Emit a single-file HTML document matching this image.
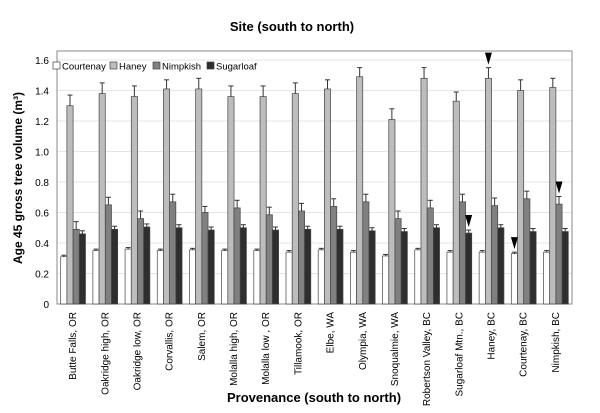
<!DOCTYPE html>
<html><head><meta charset="utf-8"><style>
body{margin:0;background:#fff;font-family:"Liberation Sans",sans-serif;}
svg text{font-family:"Liberation Sans",sans-serif;}
</style></head><body>
<svg id="chart" width="600" height="408" viewBox="0 0 600 408" xmlns="http://www.w3.org/2000/svg">
<text x="292" y="31" text-anchor="middle" font-size="13" font-weight="bold">Site (south to north)</text>
<text x="314" y="402" text-anchor="middle" font-size="13" font-weight="bold">Provenance (south to north)</text>
<text transform="translate(22,178) rotate(-90)" text-anchor="middle" font-size="12" font-weight="bold">Age 45 gross tree volume (m³)</text>
<g id="plot"></g>
</svg>
<script>
const categories=["Butte Falls, OR","Oakridge high, OR","Oakridge low, OR","Corvallis, OR","Salem, OR","Molalla high, OR","Molalla low , OR","Tillamook, OR","Elbe, WA","Olympia, WA","Snoqualmie, WA","Robertson Valley, BC","Sugarloaf Mtn., BC","Haney, BC","Courtenay, BC","Nimpkish, BC"];
const seriesNames=["Courtenay","Haney","Nimpkish","Sugarloaf"];
const courtenay=[0.31,0.35,0.36,0.35,0.355,0.35,0.35,0.34,0.355,0.34,0.315,0.355,0.34,0.34,0.33,0.34];
const haney=[1.30,1.38,1.36,1.41,1.41,1.36,1.36,1.38,1.41,1.49,1.21,1.48,1.33,1.48,1.40,1.42];
const nimpkish=[0.49,0.65,0.56,0.67,0.60,0.63,0.585,0.61,0.64,0.67,0.56,0.63,0.67,0.645,0.69,0.655];
const sugarloaf=[0.46,0.49,0.505,0.50,0.485,0.50,0.485,0.49,0.49,0.48,0.475,0.50,0.465,0.50,0.475,0.475];
const errCourtenay=[0.01,0.01,0.01,0.01,0.01,0.01,0.01,0.01,0.01,0.01,0.01,0.01,0.01,0.01,0.01,0.01];
const errHaney=[0.07,0.07,0.07,0.06,0.07,0.07,0.07,0.07,0.06,0.06,0.07,0.07,0.06,0.07,0.07,0.06];
const errNimpkish=[0.05,0.05,0.05,0.05,0.04,0.05,0.05,0.05,0.05,0.05,0.05,0.05,0.05,0.05,0.05,0.05];
const errSugarloaf=[0.02,0.02,0.02,0.02,0.02,0.02,0.02,0.02,0.02,0.02,0.02,0.02,0.02,0.02,0.02,0.02];
const arrows=[[12,3],[13,1],[14,0],[15,2]];
const yTicks=[0,0.2,0.4,0.6,0.8,1.0,1.2,1.4,1.6];
const yTickLabels=["0","0.2","0.4","0.6","0.8","1.0","1.2","1.4","1.6"];

const NS="http://www.w3.org/2000/svg";
const g=document.getElementById('plot');
const L=57,R=572,T=51,B=304;
const y=v=>B-v*(244/1.6);
const gw=(R-L)/categories.length;
const colors=["#ffffff","#bdbdbd","#808080","#2e2e2e"];
const data=[courtenay,haney,nimpkish,sugarloaf];
const errs=[errCourtenay,errHaney,errNimpkish,errSugarloaf];
function mk(t,a){const e=document.createElementNS(NS,t);for(const k in a)e.setAttribute(k,a[k]);g.appendChild(e);return e;}
yTicks.forEach((t,i)=>{
 const gl=mk('line',{x1:L,x2:R,y1:y(t),y2:y(t),stroke:'#e6e6e6','stroke-width':1});
 
 
 const tx=mk('text',{x:L-8,y:y(t)+4,'text-anchor':'end','font-size':10});
 tx.textContent=yTickLabels[i];
 
 
});
const frame=mk('rect',{x:L,y:T,width:R-L,height:B-T,fill:'none',stroke:'#888','stroke-width':1});


const bw=6.2;
categories.forEach((c,i)=>{
 const x0=L+i*gw+(gw-4*bw)/2;
 data.forEach((s,j)=>{
  const bx=x0+j*bw, v=s[i];
  const r=mk('rect',{x:bx,y:y(v),width:bw,height:B-y(v),fill:colors[j],stroke:'#444','stroke-width':0.7});
  
  
  const cx=bx+bw/2, ey=y(v+errs[j][i]);
  const e1=mk('line',{x1:cx,x2:cx,y1:y(v),y2:ey,stroke:'#333','stroke-width':1});
  
  
  const e2=mk('line',{x1:cx-2.5,x2:cx+2.5,y1:ey,y2:ey,stroke:'#333','stroke-width':1});
  
  
 });
 const lx=L+i*gw+gw/2+3;
 const t=mk('text',{transform:`translate(${lx},312) rotate(-90)`,'text-anchor':'end','font-size':10});
 t.textContent=c;
 
 
});
arrows.forEach(([i,j])=>{
 const x0=L+i*gw+(gw-4*bw)/2+j*bw+bw/2;
 const top=y(data[j][i]+errs[j][i])-3;
 const p=mk('polygon',{points:`${x0-3.5},${top-12} ${x0+3.5},${top-12} ${x0},${top}`,fill:'#000'});
 
 
});
const legX=[53,110,153,207];
seriesNames.forEach((n,j)=>{
 const r=mk('rect',{x:legX[j],y:62,width:7,height:7,fill:colors[j],stroke:'#444','stroke-width':0.7});
 
 
 const t=mk('text',{x:legX[j]+9,y:69.5,'font-size':9.5});
 t.textContent=n;
 
 
});
</script>
</body></html>
